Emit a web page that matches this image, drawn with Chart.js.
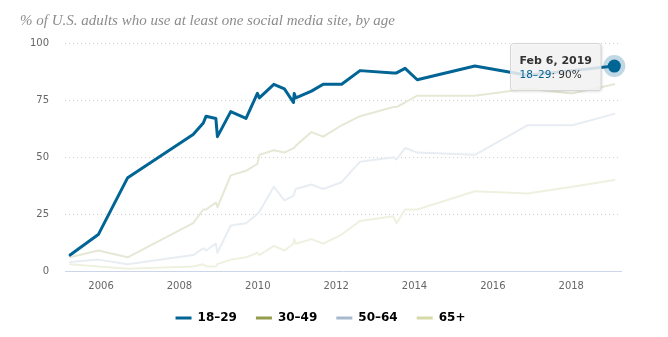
<!DOCTYPE html>
<html lang="en">
<head>
<meta charset="UTF-8">
<title>Social media use by age</title>
<script src="https://cdn.jsdelivr.net/npm/chart.js@4"></script>
<style>
  html, body { margin: 0; padding: 0; background: #fff; }
  #wrap { width: 668px; height: 337px; position: relative; }
</style>
</head>
<body>
<div id="wrap"><canvas id="chart"></canvas></div>
<script>
// survey dates (decimal years) and share of adults using social media, by age
const surveyDates = [2005.21, 2005.93, 2006.68, 2008.35, 2008.61, 2008.68, 2008.93, 2008.97, 2009.31, 2009.70,
  2009.99, 2010.04, 2010.41, 2010.68, 2010.91, 2010.93, 2010.97, 2011.37, 2011.67, 2012.14,
  2012.61, 2013.46, 2013.54, 2013.76, 2014.07, 2015.54, 2016.88, 2018.03, 2019.10];
const ages18to29 = [7, 16, 41, 60, 65, 68, 67, 59, 70, 67, 78, 76, 82, 80, 74, 78, 76, 79, 82, 82, 88, 87, 87, 89, 84, 90, 86, 88, 90];
const ages30to49 = [6, 9, 6, 21, 27, 27, 30, 28, 42, 44, 47, 51, 53, 52, 54, 54, 55, 61, 59, 64, 68, 72, 72, 74, 77, 77, 80, 78, 82];
const ages50to64 = [4, 5, 3, 7, 10, 9, 12, 8, 20, 21, 25, 26, 37, 31, 33, 34, 36, 38, 36, 39, 48, 50, 49, 54, 52, 51, 64, 64, 69];
const ages65plus = [3, 2, 1, 2, 3, 2, 2, 3, 5, 6, 8, 7, 11, 9, 12, 14, 12, 14, 12, 16, 22, 24, 21, 27, 27, 35, 34, 37, 40];

const seriesNames = ['18\u201329', '30\u201349', '50\u201364', '65+'];
const yearTicks = [2006, 2008, 2010, 2012, 2014, 2016, 2018];
const pctTicks = [0, 25, 50, 75, 100];
const tooltipTitle = 'Feb 6, 2019';

// legend keeps full colours, the lines of the non-hovered series are faded
const legendColors = ['#006595', '#949d4c', '#a6b9cf', '#d5daa9'];
const lineColors = ['#006595', '#e6e8d5', '#e8edf3', '#eff1e0'];

const allSeries = [ages18to29, ages30to49, ages50to64, ages65plus];
const toPoints = vals => surveyDates.map((t, i) => ({ x: t, y: vals[i] }));

const hoverPlugin = {
    id: 'hoverPoint',
    afterDatasetsDraw(chart) {
        const ctx = chart.ctx;
        const pt = chart.getDatasetMeta(0).data[surveyDates.length - 1];
        ctx.save();
        ctx.beginPath();
        ctx.arc(pt.x, pt.y, 11, 0, Math.PI * 2);
        ctx.fillStyle = 'rgba(0,101,149,0.25)';
        ctx.fill();
        ctx.beginPath();
        ctx.arc(pt.x, pt.y, 6.5, 0, Math.PI * 2);
        ctx.fillStyle = lineColors[0];
        ctx.fill();
        ctx.restore();
    },
    afterDraw(chart) {
        const ctx = chart.ctx;
        const last = surveyDates.length - 1;
        const pt = chart.getDatasetMeta(0).data[last];
        const labelPart = seriesNames[0];
        const valuePart = ': ' + ages18to29[last] + '%';

        ctx.save();
        ctx.font = 'bold 11px "DejaVu Sans"';
        const titleW = ctx.measureText(tooltipTitle).width;
        ctx.font = '10.5px "DejaVu Sans"';
        const labelW = ctx.measureText(labelPart).width;
        const bodyW = labelW + ctx.measureText(valuePart).width;
        const w = Math.max(titleW, bodyW) + 18;
        const h = 47;
        const x0 = Math.round(pt.x - 14 - w) + 0.5;
        const y0 = Math.round(pt.y - 23) + 0.5;

        // box with a soft shadow
        ctx.shadowColor = 'rgba(0,0,0,0.18)';
        ctx.shadowBlur = 3;
        ctx.shadowOffsetX = 1;
        ctx.shadowOffsetY = 1;
        ctx.beginPath();
        ctx.roundRect(x0, y0, w, h, 3);
        ctx.fillStyle = 'rgba(247,247,247,0.85)';
        ctx.fill();
        ctx.shadowColor = 'transparent';
        ctx.strokeStyle = '#d6d6d6';
        ctx.lineWidth = 1;
        ctx.stroke();

        ctx.textBaseline = 'alphabetic';
        ctx.textAlign = 'left';
        ctx.font = 'bold 11px "DejaVu Sans"';
        ctx.fillStyle = '#333';
        ctx.fillText(tooltipTitle, x0 + 9, y0 + 20.5);
        ctx.font = '10.5px "DejaVu Sans"';
        ctx.fillStyle = legendColors[0];
        ctx.fillText(labelPart, x0 + 9, y0 + 34.5);
        ctx.fillStyle = '#333';
        ctx.fillText(valuePart, x0 + 9 + labelW, y0 + 34.5);
        ctx.restore();
    }
};

new Chart(document.getElementById('chart'), {
    type: 'line',
    data: {
        datasets: allSeries.map((vals, i) => ({
            label: seriesNames[i],
            data: toPoints(vals),
            borderColor: lineColors[i],
            backgroundColor: lineColors[i],
            borderWidth: i === 0 ? 3 : 2,
            borderJoinStyle: 'round',
            borderCapStyle: 'round',
            pointRadius: 0,
            tension: 0
        }))
    },
    options: {
        responsive: true,
        maintainAspectRatio: false,
        animation: false,
        devicePixelRatio: 1,
        layout: { padding: { left: 20, right: 47, top: 0, bottom: 3 } },
        plugins: {
            title: {
                display: true,
                text: '% of U.S. adults who use at least one social media site, by age',
                align: 'start',
                color: '#8c8c8c',
                font: { family: 'Liberation Serif', style: 'italic', size: 15, weight: 'normal' },
                padding: { top: 12, bottom: 13.3 }
            },
            legend: {
                position: 'bottom',
                labels: {
                    boxWidth: 16,
                    boxHeight: 3,
                    padding: 19,
                    color: '#333',
                    font: { family: 'DejaVu Sans', weight: 'bold', size: 12 },
                    generateLabels: chart => seriesNames.map((name, i) => ({
                        text: name,
                        fillStyle: legendColors[i],
                        strokeStyle: legendColors[i],
                        lineWidth: 0,
                        datasetIndex: i
                    }))
                }
            },
            tooltip: { enabled: false }
        },
        scales: {
            x: {
                type: 'linear',
                min: 2005.08,
                max: 2019.27,
                afterBuildTicks: s => { s.ticks = yearTicks.map(v => ({ value: v })); },
                afterFit: s => { s.height = 22; },
                ticks: {
                    callback: v => String(v),
                    color: '#666',
                    font: { family: 'DejaVu Sans', size: 10 },
                    padding: 9,
                    maxRotation: 0,
                    autoSkip: false
                },
                grid: { display: false, drawTicks: false },
                border: { display: true, color: '#ccd6eb', width: 1 }
            },
            y: {
                min: 0,
                max: 100,
                afterBuildTicks: s => { s.ticks = pctTicks.map(v => ({ value: v })); },
                afterFit: s => { s.width = 45; },
                ticks: {
                    color: '#666',
                    font: { family: 'DejaVu Sans', size: 10 },
                    padding: 16
                },
                grid: {
                    drawTicks: false,
                    color: c => (c.tick && c.tick.value === 0) ? 'rgba(0,0,0,0)' : '#cfcfcf'
                },
                border: { display: false, dash: [1, 3] }
            }
        }
    },
    plugins: [hoverPlugin]
});
</script>
</body>
</html>
